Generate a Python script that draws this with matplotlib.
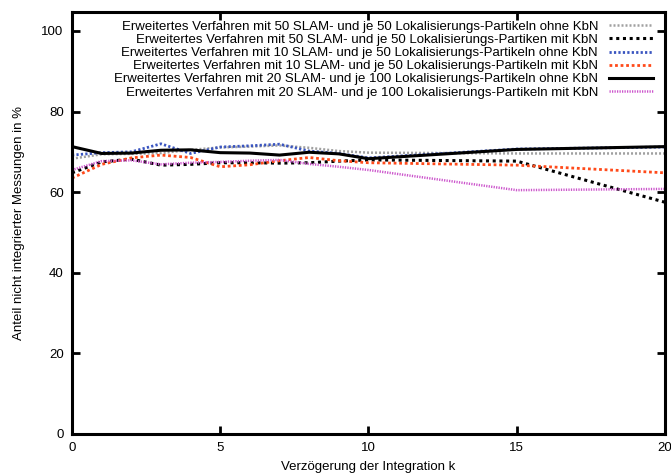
import matplotlib.pyplot as plt
import numpy as np

plt.rcParams["font.family"] = ["Liberation Sans", "DejaVu Sans"]

# Verzögerung k
k = [0, 1, 2, 3, 4, 5, 6, 7, 8, 9, 10, 15, 20]

# Anteil nicht integrierter Messungen in %
slam50_ohne = [68.3, 69.4, 69.5, 69.7, 70.5, 71.1, 71.3, 71.6, 71.0, 70.2, 69.8, 69.6, 69.6]
slam50_mit = [64.8, 67.5, 68.2, 66.7, 66.9, 67.3, 67.3, 67.2, 67.3, 67.7, 68.0, 67.7, 57.5]
slam10_ohne = [69.2, 69.8, 70.0, 72.0, 69.6, 71.2, 71.5, 71.9, 70.2, 69.6, 68.5, 70.7, 71.2]
slam10_mit = [63.5, 66.9, 68.5, 69.2, 68.6, 66.3, 66.8, 67.8, 68.6, 67.8, 67.3, 66.7, 64.8]
slam20_ohne = [71.3, 69.6, 69.7, 70.4, 70.5, 69.8, 69.7, 69.2, 69.9, 69.5, 68.3, 70.6, 71.3]
slam20_mit = [65.5, 67.7, 67.9, 66.9, 67.3, 67.5, 67.8, 68.0, 67.0, 66.3, 65.5, 60.5, 60.8]

labels = [
    "Erweitertes Verfahren mit 50 SLAM- und je 50 Lokalisierungs-Partikeln ohne KbN",
    "Erweitertes Verfahren mit 50 SLAM- und je 50 Lokalisierungs-Partiken mit KbN",
    "Erweitertes Verfahren mit 10 SLAM- und je 50 Lokalisierungs-Partikeln ohne KbN",
    "Erweitertes Verfahren mit 10 SLAM- und je 50 Lokalisierungs-Partikeln mit KbN",
    "Erweitertes Verfahren mit 20 SLAM- und je 100 Lokalisierungs-Partikeln ohne KbN",
    "Erweitertes Verfahren mit 20 SLAM- und je 100 Lokalisierungs-Partikeln mit KbN",
]

fig = plt.figure(figsize=(6.71, 4.74), dpi=100)
ax = fig.add_axes([0.1073, 0.0844, 0.8837, 0.8903])

ax.plot(k, slam50_ohne, color="#a0a0a0", lw=1.8, ls=(0, (0.8, 0.8)), label=labels[0])
ax.plot(k, slam50_mit, color="black", lw=2.2, ls=(0, (1, 1.2)), label=labels[1])
ax.plot(k, slam10_ohne, color="#3a55c0", lw=2.0, ls=(0, (0.8, 0.8)), label=labels[2])
ax.plot(k, slam10_mit, color="#ff4a1a", lw=2.0, ls=(0, (1, 1)), label=labels[3])
ax.plot(k, slam20_ohne, color="black", lw=2.2, ls="-", label=labels[4])
ax.plot(k, slam20_mit, color="#cc55cc", lw=1.8, ls=(0, (0.5, 0.5)), label=labels[5])

ax.set_xlim(0, 20)
ax.set_ylim(0, 104.7)
ax.set_xticks([0, 5, 10, 15, 20])
ax.set_yticks([0, 20, 40, 60, 80, 100])
ax.tick_params(direction="in", length=6, width=2, labelsize=9.5,
               top=True, right=True, pad=6)
for s in ax.spines.values():
    s.set_linewidth(2.2)

ax.set_xlabel("Verzögerung der Integration k", fontsize=9.5, labelpad=5)
ax.set_ylabel("Anteil nicht integrierter Messungen in %", fontsize=9.5, labelpad=12)

ax.legend(loc="upper right", frameon=False, markerfirst=False, fontsize=9.5,
          handlelength=3.4, labelspacing=0.07, handletextpad=0.8,
          borderaxespad=0.25, bbox_to_anchor=(0.995, 1.0))

fig.savefig("out.png", dpi=100)
